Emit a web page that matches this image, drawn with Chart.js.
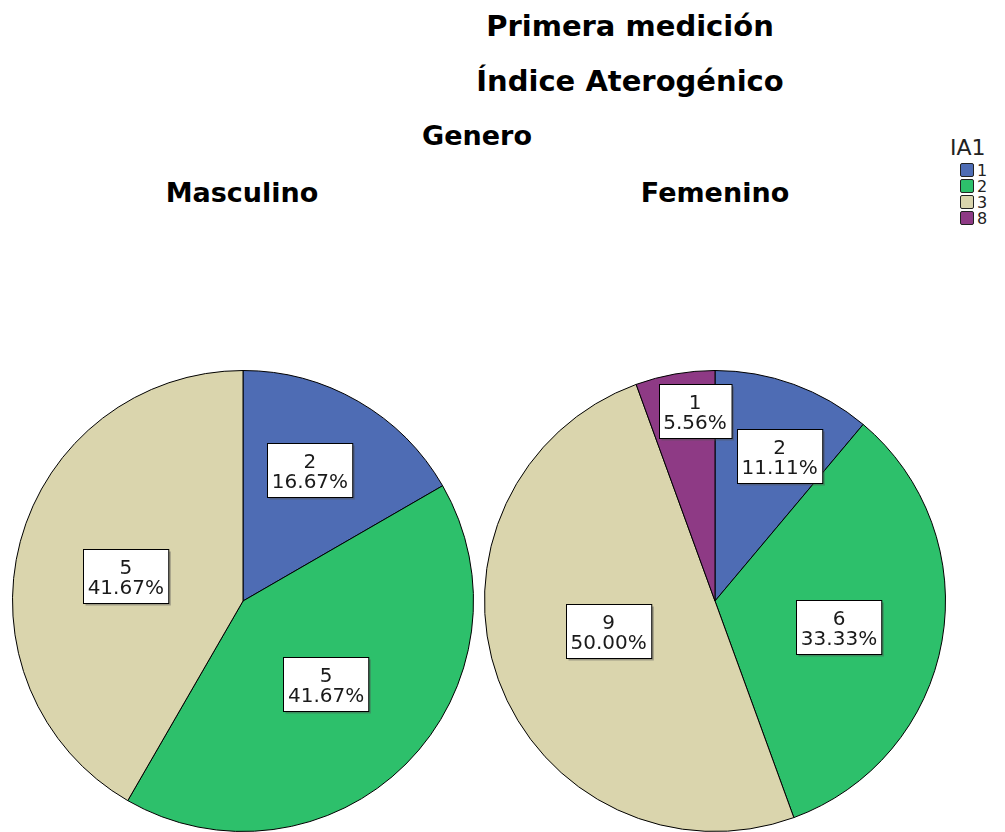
<!DOCTYPE html>
<html><head><meta charset="utf-8">
<script src="https://cdn.jsdelivr.net/npm/chart.js@4"></script>
<style>
html,body{margin:0;padding:0;background:#fff;width:1005px;height:832px;overflow:hidden;font-family:"DejaVu Sans",sans-serif;}
.t{position:absolute;white-space:nowrap;font-weight:bold;line-height:1;transform:translateX(-50%);color:#000;}
.pie{position:absolute;width:462px;height:462px;}
#legend{position:absolute;left:950px;top:137px;font-family:"DejaVu Sans",sans-serif;color:#222;}
#legend .lt{font-size:22px;line-height:1;margin-bottom:3px;}
#legend .it{display:flex;align-items:center;height:16px;font-size:16px;}
#legend .sw{width:12px;height:12px;border:1px solid #222;border-radius:2px;margin-left:10px;margin-right:3px;box-sizing:content-box;}
</style></head><body>
<div id="titles"></div>
<div class="pie" style="left:12px;top:370px;"><canvas id="c0" width="462" height="462"></canvas></div>
<div class="pie" style="left:484px;top:370px;"><canvas id="c1" width="462" height="462"></canvas></div>
<div id="legend"></div>
<script>
// ---- data ----
const titleLines = ['Primera medición', 'Índice Aterogénico'];
const groupTitle = 'Genero';
const legendTitle = 'IA1';
const categories = ['1', '2', '3', '8'];
const genderLabels = ['Masculino', 'Femenino'];
const masculinoCounts = [2, 5, 5, 0];
const femeninoCounts = [2, 6, 9, 1];
const sliceColors = ['rgb(78,108,180)', 'rgb(45,192,107)', 'rgb(218,213,173)', 'rgb(142,58,133)'];
// label placement (fraction of radius along slice bisector, plus angle shift in degrees)
const labelRadiusMasc = [0.64, 0.51, 0.52, 0.6];
const labelRadiusFem = [0.69, 0.55, 0.48, 0.83];
const labelShiftMasc = [-3, 0, -3, 0];
const labelShiftFem = [4, 2, 4, 4];

// ---- titles (HTML text) ----
const titleSpecs = [
  {text: titleLines[0], x: 630, capMid: 26, size: 29},
  {text: titleLines[1], x: 630, capMid: 81, size: 29},
  {text: groupTitle, x: 477, capMid: 135, size: 27},
  {text: genderLabels[0], x: 242, capMid: 192, size: 27},
  {text: genderLabels[1], x: 715, capMid: 192, size: 27}
];
const tdiv = document.getElementById('titles');
titleSpecs.forEach(s => {
  const d = document.createElement('div');
  d.className = 't';
  d.textContent = s.text;
  d.style.fontSize = s.size + 'px';
  d.style.left = s.x + 'px';
  d.style.top = (s.capMid - 0.48 * s.size) + 'px';
  tdiv.appendChild(d);
});

// ---- legend ----
const lg = document.getElementById('legend');
const lt = document.createElement('div'); lt.className = 'lt'; lt.textContent = legendTitle; lg.appendChild(lt);
categories.forEach((c, i) => {
  const it = document.createElement('div'); it.className = 'it';
  const sw = document.createElement('span'); sw.className = 'sw'; sw.style.background = sliceColors[i];
  const tx = document.createElement('span'); tx.textContent = c;
  it.appendChild(sw); it.appendChild(tx); lg.appendChild(it);
});

// ---- label plugin ----
const boxLabels = {
  id: 'boxLabels',
  afterDatasetsDraw(chart, args, opts) {
    const ctx = chart.ctx;
    const ds = chart.data.datasets[0];
    const total = ds.data.reduce((a, b) => a + b, 0);
    const meta = chart.getDatasetMeta(0);
    ctx.save();
    ctx.font = '20px "DejaVu Sans", sans-serif';
    ctx.textAlign = 'center';
    ctx.textBaseline = 'middle';
    meta.data.forEach((arc, i) => {
      const v = ds.data[i];
      if (!v) return;
      const p = arc.getProps(['x', 'y', 'startAngle', 'endAngle', 'outerRadius'], true);
      const mid = (p.startAngle + p.endAngle) / 2 + opts.shift[i] * Math.PI / 180;
      const r = p.outerRadius * opts.radius[i];
      const cx = p.x + Math.cos(mid) * r;
      const cy = p.y + Math.sin(mid) * r;
      const l1 = String(v);
      const l2 = (v / total * 100).toFixed(2) + '%';
      const w = Math.max(ctx.measureText(l1).width, ctx.measureText(l2).width) + 9;
      const h = 54;
      const bx = Math.round(cx - w / 2) + 0.5, by = Math.round(cy - h / 2) + 0.5;
      ctx.fillStyle = 'rgba(80,80,80,0.45)';
      ctx.fillRect(bx + 2, by + 2, w, h);
      ctx.fillStyle = '#fff';
      ctx.fillRect(bx, by, w, h);
      ctx.strokeStyle = '#000';
      ctx.lineWidth = 1;
      ctx.strokeRect(bx, by, w, h);
      ctx.fillStyle = '#1a1a1a';
      ctx.fillText(l1, cx, by + 19);
      ctx.fillText(l2, cx, by + 39);
    });
    ctx.restore();
  }
};

function makePie(id, counts, radii, shifts) {
  return new Chart(document.getElementById(id), {
    type: 'pie',
    data: {
      labels: categories,
      datasets: [{
        data: counts,
        backgroundColor: sliceColors,
        borderColor: '#000',
        borderWidth: 1
      }]
    },
    options: {
      responsive: false,
      animation: false,
      layout: {padding: 0},
      plugins: {
        legend: {display: false},
        tooltip: {enabled: false},
        boxLabels: {radius: radii, shift: shifts}
      }
    },
    plugins: [boxLabels]
  });
}
makePie('c0', masculinoCounts, labelRadiusMasc, labelShiftMasc);
makePie('c1', femeninoCounts, labelRadiusFem, labelShiftFem);
</script>
</body></html>
